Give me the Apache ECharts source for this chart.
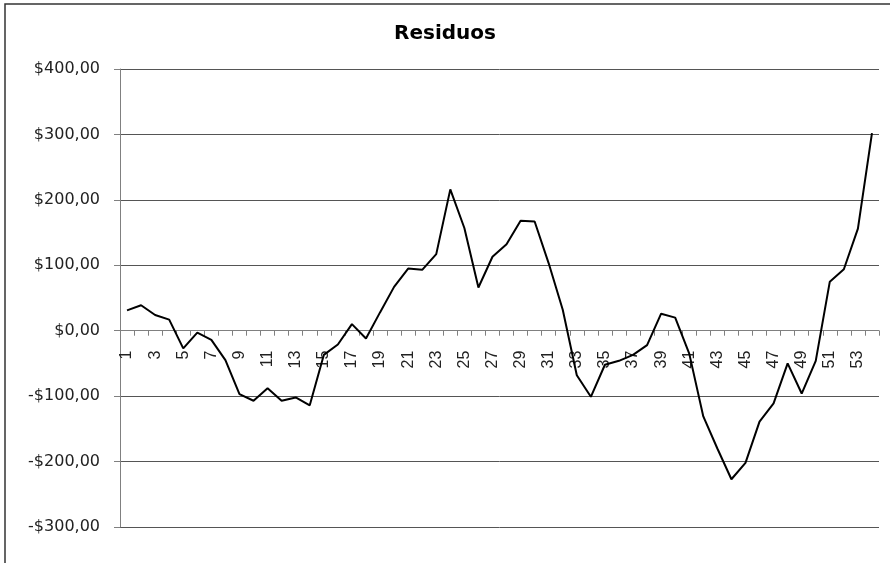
<!DOCTYPE html>
<html>
<head>
<meta charset="utf-8">
<title>Residuos</title>
<script src="https://cdn.jsdelivr.net/npm/echarts@6/dist/echarts.min.js"></script>
<style>
  html, body { margin: 0; padding: 0; background: #fff; }
  #chart { width: 890px; height: 563px; }
</style>
</head>
<body>
<div id="chart"></div>
<script>
// Observation numbers along the horizontal axis
const periods = [
  '1','2','3','4','5','6','7','8','9','10',
  '11','12','13','14','15','16','17','18','19','20',
  '21','22','23','24','25','26','27','28','29','30',
  '31','32','33','34','35','36','37','38','39','40',
  '41','42','43','44','45','46','47','48','49','50',
  '51','52','53','54'
];

// Residual for each observation
const residuos = [
  31, 39, 24, 17, -27, -3, -14, -45, -97, -107,
  -88, -107, -102, -114, -37, -21, 10, -12, 28, 67,
  95, 93, 117, 216, 157, 66, 113, 132, 168, 167,
  103, 32, -68, -101, -52, -46, -37, -22, 26, 20,
  -35, -131, -180, -227, -202, -139, -111, -50, -96, -46,
  75, 94, 156, 302
];

// Value axis range and step
const yMin = -300;
const yMax = 400;
const yStep = 100;

// Plot area margins
const W = 890, H = 563;
const gridLeft = 120, gridRight = 11, gridTop = 69, gridBottom = 36;

// The category axis sits on the zero line: shift it up from the bottom edge
const plotHeight = H - gridTop - gridBottom;
const zeroShift = plotHeight * (0 - yMin) / (yMax - yMin);

function moneyLabel(v) {
  const sign = v < 0 ? '-' : '';
  return sign + '$' + Math.abs(v) + ',00';
}

const chart = echarts.init(document.getElementById('chart'), null, { renderer: 'canvas' });

chart.setOption({
  animation: false,
  backgroundColor: '#ffffff',
  title: {
    text: 'Residuos',
    left: 'center',
    top: 19,
    textStyle: {
      fontFamily: 'DejaVu Sans',
      fontWeight: 'bold',
      fontSize: 20,
      color: '#000'
    }
  },
  graphic: [
    {
      type: 'polyline',
      silent: true,
      shape: { points: [[5, 563], [5, 4], [890, 4]] },
      style: { stroke: '#333', lineWidth: 1.5, fill: null }
    }
  ],
  grid: {
    left: gridLeft,
    right: gridRight,
    top: gridTop,
    bottom: gridBottom,
    containLabel: false
  },
  xAxis: {
    type: 'category',
    data: periods,
    boundaryGap: true,
    position: 'bottom',
    offset: -zeroShift,
    axisLine: {
      onZero: false,
      lineStyle: { color: '#808080', width: 1 }
    },
    axisTick: {
      show: true,
      interval: 0,
      alignWithLabel: false,
      length: 5,
      lineStyle: { color: '#808080' }
    },
    axisLabel: {
      interval: 1,
      rotate: 90,
      margin: 20,
      fontFamily: 'Liberation Sans',
      fontSize: 16,
      color: '#222'
    },
    splitLine: { show: false }
  },
  yAxis: {
    type: 'value',
    min: yMin,
    max: yMax,
    interval: yStep,
    axisLine: {
      show: true,
      lineStyle: { color: '#808080', width: 1 }
    },
    axisTick: {
      show: true,
      length: 6,
      lineStyle: { color: '#808080' }
    },
    axisLabel: {
      formatter: moneyLabel,
      margin: 20,
      fontFamily: 'DejaVu Sans',
      fontSize: 16,
      color: '#222'
    },
    splitLine: {
      show: true,
      lineStyle: { color: '#555', width: 1 }
    }
  },
  series: [
    {
      name: 'Residuos',
      type: 'line',
      data: residuos,
      symbol: 'none',
      lineStyle: { color: '#000', width: 2 },
      itemStyle: { color: '#000' }
    }
  ]
});
</script>
</body>
</html>
